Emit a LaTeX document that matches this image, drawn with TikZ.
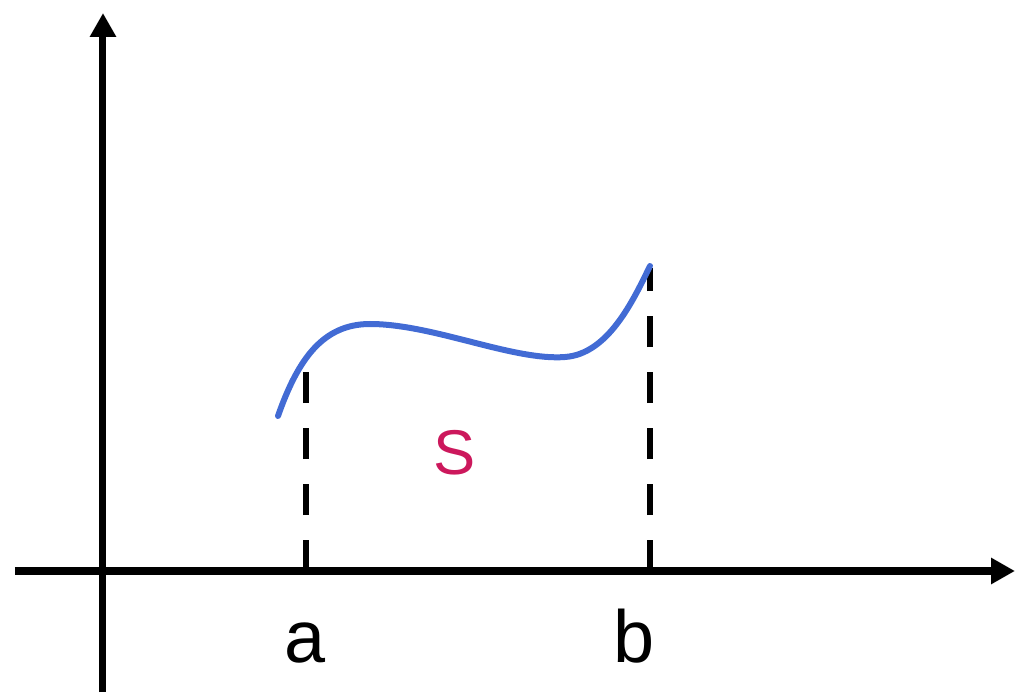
\documentclass[tikz,border=0pt]{standalone}
\usepackage{fontspec}
\setmainfont{Liberation Sans}
\usetikzlibrary{arrows.meta}

\definecolor{curveblue}{RGB}{66,107,212}
\definecolor{areared}{RGB}{204,24,92}

\begin{document}
\begin{tikzpicture}[
  axis/.style={-{Triangle[length=2.4mm, width=2.5mm]}, line width=0.07cm},
  bound/.style={line width=0.06cm, dash pattern=on 0.31cm off 0.25cm},
  fcurve/.style={draw=curveblue, line width=0.06cm, line cap=round},
  tick/.style={font=\fontsize{21}{25}\selectfont, anchor=base},
  region/.style={font=\fontsize{18}{22}\selectfont, text=areared, anchor=base},
]
  % ---- frame (reference proportions) ----
  \useasboundingbox (-1.03,-1.21) rectangle (9.15,5.71);

  % ---- axes ----
  \coordinate (xl) at (-0.88,0);
  \coordinate (xr) at (9.12,0);
  \coordinate (yb) at (0,-1.21);
  \coordinate (yt) at (0,5.58);
  \draw[axis] (xl) -- (xr);
  \draw[axis] (yb) -- (yt);

  % ---- bounds of the interval ----
  \coordinate (a0) at (2.03,0);
  \coordinate (atop) at (2.03,2.01);
  \coordinate (b0) at (5.47,0);
  \coordinate (btop) at (5.47,3.03);
  \draw[bound] (a0) -- (atop);
  \draw[bound] (b0) -- (btop);

  % ---- the curve ----
  \draw[fcurve] (1.75,1.55) .. controls (1.95,2.12) and (2.2,2.47) .. (2.67,2.47)
                .. controls (3.3,2.47) and (4.1,2.1) .. (4.62,2.14)
                .. controls (5.05,2.17) and (5.3,2.7) .. (5.47,3.05);

  % ---- labels ----
  \node[tick] (la) at (2.02,-0.91) {a};
  \node[tick] (lb) at (5.31,-0.91) {b};
  \node[region] (ls) at (3.52,0.96) {S};
\end{tikzpicture}
\end{document}
